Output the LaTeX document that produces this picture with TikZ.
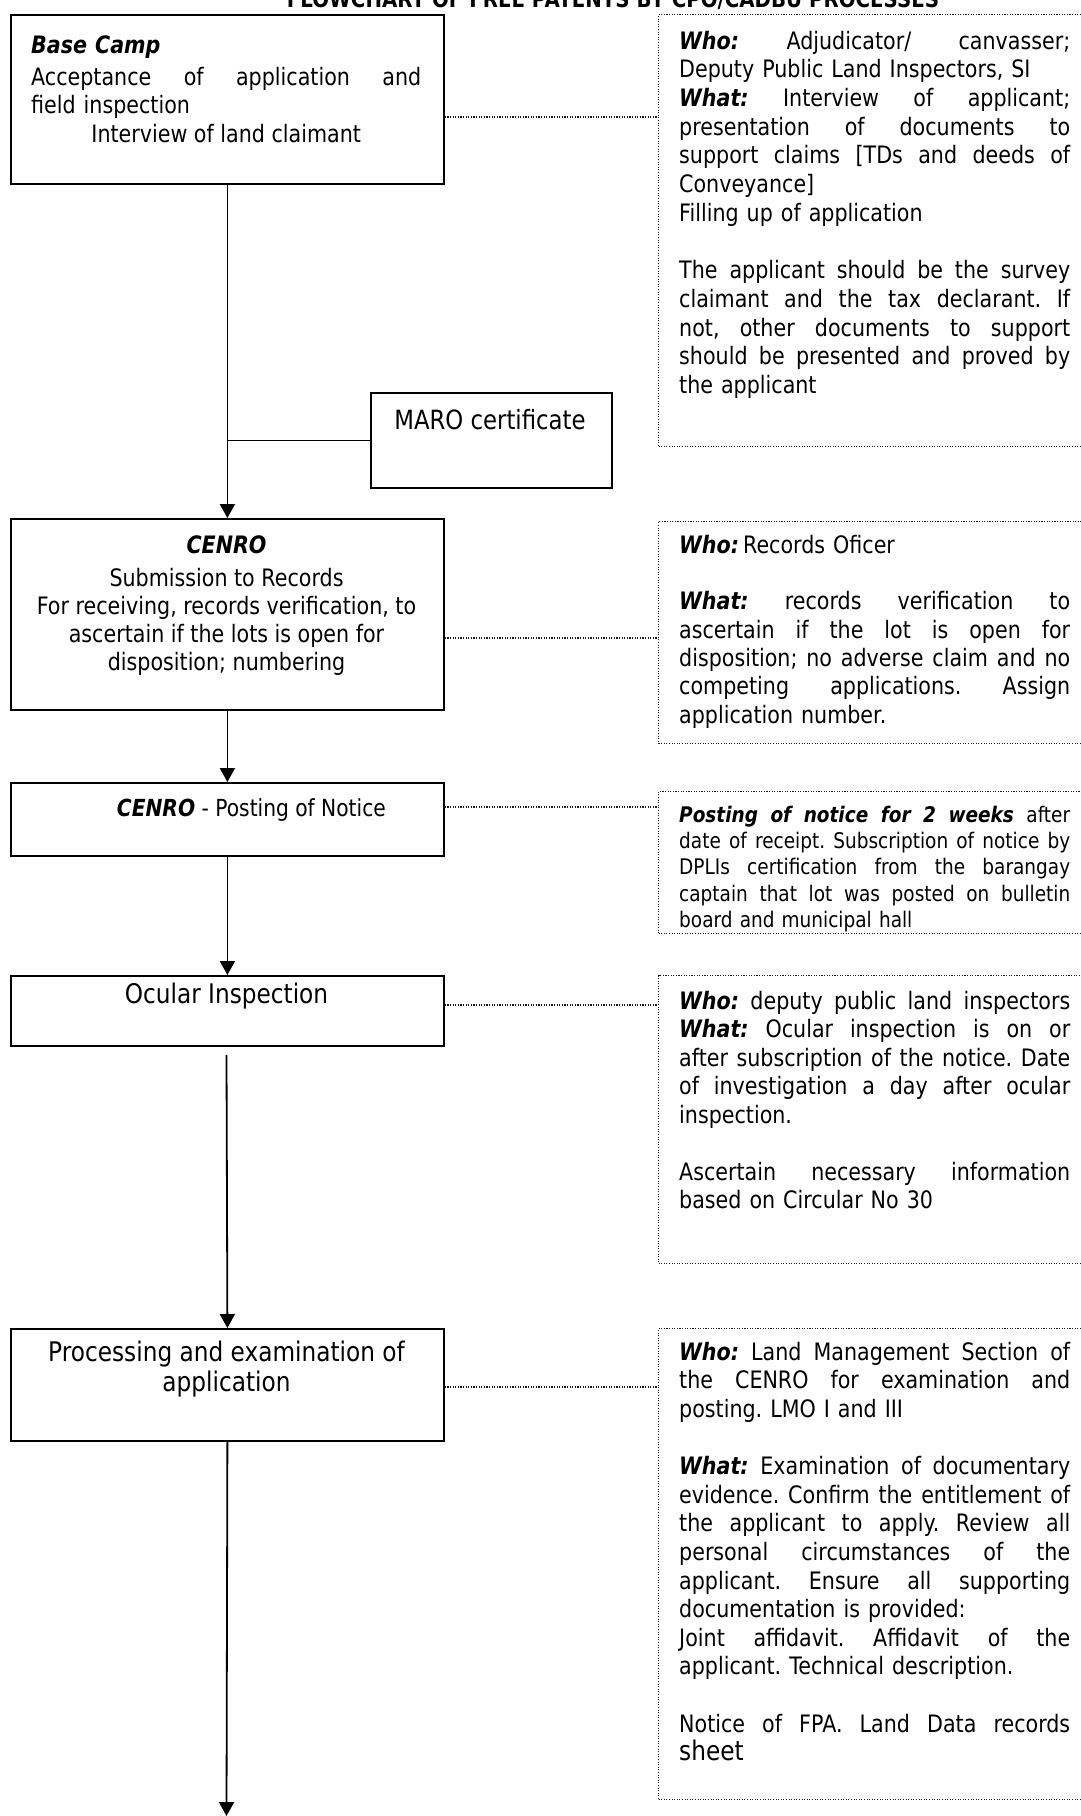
\documentclass[tikz,border=0pt]{standalone}
\usepackage{fontspec}
\setmainfont{DejaVu Sans}[FakeStretch=0.86]
\usetikzlibrary{arrows.meta}
\setlength\parindent{0pt}
\frenchspacing
\newcommand\bi[1]{\textbf{\textit{#1}}}
% one justified line: the word spaces share the spare width
\newcommand\jl[1]{\leavevmode\hbox to\hsize{\spaceskip=\fontdimen2\font plus 1fil\relax#1}}
\newcommand\fsz[2]{\fontsize{#1}{#2}\selectfont}

\begin{document}
\begin{tikzpicture}[x=1pt,y=-1pt,
  flowbox/.style={draw=black,line width=1.8pt,inner sep=0pt,anchor=north west},
  notebox/.style={draw=black!90,line width=1.1pt,dash pattern=on 1.1pt off 1.5pt,inner sep=0pt,anchor=north west},
  link/.style={draw=black!90,line width=1.1pt,dash pattern=on 1.1pt off 1.5pt},
  flow/.style={draw=black,line width=1.8pt,-{Triangle[width=15pt,length=14pt]}},
  plain/.style={draw=black,line width=1.8pt},
  notetext/.style={anchor=north west,inner sep=0pt,text width=391pt,align=left,font=\fsz{24}{28.6}},
  boxtext/.style={inner sep=0pt,align=center,font=\fsz{24}{28}},
  bigtext/.style={inner sep=0pt,align=center,font=\fsz{27}{29}},
]
\useasboundingbox (0,0) rectangle (1080,1816);
\fill[white] (0,0) rectangle (1080,1816);

% heading, cut by the upper page edge
\node[anchor=base,inner sep=0pt,font=\bfseries\fsz{23}{28}] (title) at (613,7)
  {FLOWCHART OF FREE PATENTS BY CPO/CADBU PROCESSES};

% process boxes
\node[flowbox,minimum width=433pt,minimum height=169pt] (b1) at (10,14) {};
\node[flowbox,minimum width=241pt,minimum height=95pt] (maro) at (370,392) {};
\node[flowbox,minimum width=433pt,minimum height=191pt] (b2) at (10,518) {};
\node[flowbox,minimum width=433pt,minimum height=73pt] (b3) at (10,782) {};
\node[flowbox,minimum width=433pt,minimum height=70pt] (b4) at (10,975) {};
\node[flowbox,minimum width=433pt,minimum height=112pt] (b5) at (10,1328) {};

% note boxes
\node[notebox,minimum width=432pt,minimum height=432pt] (rb1) at (658,14) {};
\node[notebox,minimum width=432pt,minimum height=222pt] (rb2) at (658,521) {};
\node[notebox,minimum width=432pt,minimum height=142pt] (rb3) at (658,791) {};
\node[notebox,minimum width=432pt,minimum height=288pt] (rb4) at (658,975) {};
\node[notebox,minimum width=432pt,minimum height=471pt] (rb5) at (658,1328) {};

% step texts
\node[notetext,text width=390pt,font=\fsz{24}{28.6}] (b1t) at (31,33) {\strut\bi{Base Camp}\\[3.5pt]
  \jl{Acceptance of application and}\\
  field inspection\\
  \jl{\hfill Interview of land claimant\hfill}};
\node[inner sep=0pt,font=\fsz{26.5}{29},anchor=base] (marot) at (490,429) {MARO certificate};
\node[boxtext,anchor=north] (b2t) at (226.5,533.4) {\strut\bi{CENRO}\\[5pt]
  Submission to Records\\
  For receiving, records verification, to\\
  ascertain if the lots is open for\\
  disposition; numbering};
\node[boxtext,font=\fsz{23.5}{28},anchor=base east] (b3t) at (386,816) {\bi{CENRO} - Posting of Notice};
\node[bigtext,anchor=base] (b4t) at (226.5,1003) {Ocular Inspection};
\node[bigtext,anchor=north] (b5t) at (226.5,1340.7) {\strut Processing and examination of\\ application};

% note texts
\node[notetext,font=\fsz{24}{28.7}] (rb1t) at (679,28.9) {\strut\jl{\bi{Who:} Adjudicator/ canvasser;}\\
  Deputy Public Land Inspectors, SI\\
  \jl{\bi{What:} Interview of applicant;}\\
  \jl{presentation of documents to}\\
  \jl{support claims [TDs and deeds of}\\
  Conveyance]\\
  Filling up of application\\[28.7pt]
  \jl{The applicant should be the survey}\\
  \jl{claimant and the tax declarant. If}\\
  \jl{not, other documents to support}\\
  \jl{should be presented and proved by}\\
  the applicant};
\node[notetext,font=\fsz{24}{28.3}] (rb2t) at (679,533.2) {\strut\bi{Who:}\,Records Oficer\\[28.3pt]
  \jl{\bi{What:} records verification to}\\
  \jl{ascertain if the lot is open for}\\
  \jl{disposition; no adverse claim and no}\\
  \jl{competing applications. Assign}\\
  application number.};
\begin{scope}
  \clip (rb3.north west) rectangle (rb3.south east);
  \node[notetext,font=\fsz{21.5}{26.2}] (rb3t) at (679,804) {\strut\jl{\bi{Posting of notice for 2 weeks} after}\\
    \jl{date of receipt. Subscription of notice by}\\
    \jl{DPLIs certification from the barangay}\\
    \jl{captain that lot was posted on bulletin}\\
    board and municipal hall};
\end{scope}
\node[notetext,font=\fsz{24}{28.5}] (rb4t) at (679,989) {\strut\jl{\bi{Who:} deputy public land inspectors}\\
  \jl{\bi{What:} Ocular inspection is on or}\\
  \jl{after subscription of the notice. Date}\\
  \jl{of investigation a day after ocular}\\
  inspection.\\[28.5pt]
  \jl{Ascertain necessary information}\\
  based on Circular No 30};
\node[notetext] (rb5t) at (679,1340) {\strut\jl{\bi{Who:} Land Management Section of}\\
  \jl{the CENRO for examination and}\\
  posting. LMO I and III\\[28.6pt]
  \jl{\bi{What:} Examination of documentary}\\
  \jl{evidence. Confirm the entitlement of}\\
  \jl{the applicant to apply. Review all}\\
  \jl{personal circumstances of the}\\
  \jl{applicant. Ensure all supporting}\\
  documentation is provided:\\
  \jl{Joint affidavit. Affidavit of the}\\
  applicant. Technical description.\\[28.6pt]
  \jl{Notice of FPA. Land Data records}\\
  {\fsz{27}{28.6}sheet}};

% dotted leaders from each step to its note
\draw[link] (b1.east |- 0,117) -- (rb1.west |- 0,117);
\draw[link] (b2.east |- 0,638) -- (rb2.west |- 0,638);
\draw[link] (b3.east |- 0,807) -- (rb3.west |- 0,807);
\draw[link] (b4.east |- 0,1005) -- (rb4.west |- 0,1005);
\draw[link] (b5.east |- 0,1387) -- (rb5.west |- 0,1387);

% flow
\coordinate (j1) at (b1.south |- maro.west);
\coordinate (s4) at (226.5,1055);
\coordinate (endpt) at (226.5,1816);
\draw[flow] (b1.south) -- (b2.north);
\draw[plain] (maro.west) -- (j1);
\draw[flow] (b2.south) -- (b3.north);
\draw[flow] (b3.south) -- (b4.north);
\draw[flow] (s4) -- (b5.north);
\draw[flow] (b5.south) -- (endpt);
\end{tikzpicture}
\end{document}
